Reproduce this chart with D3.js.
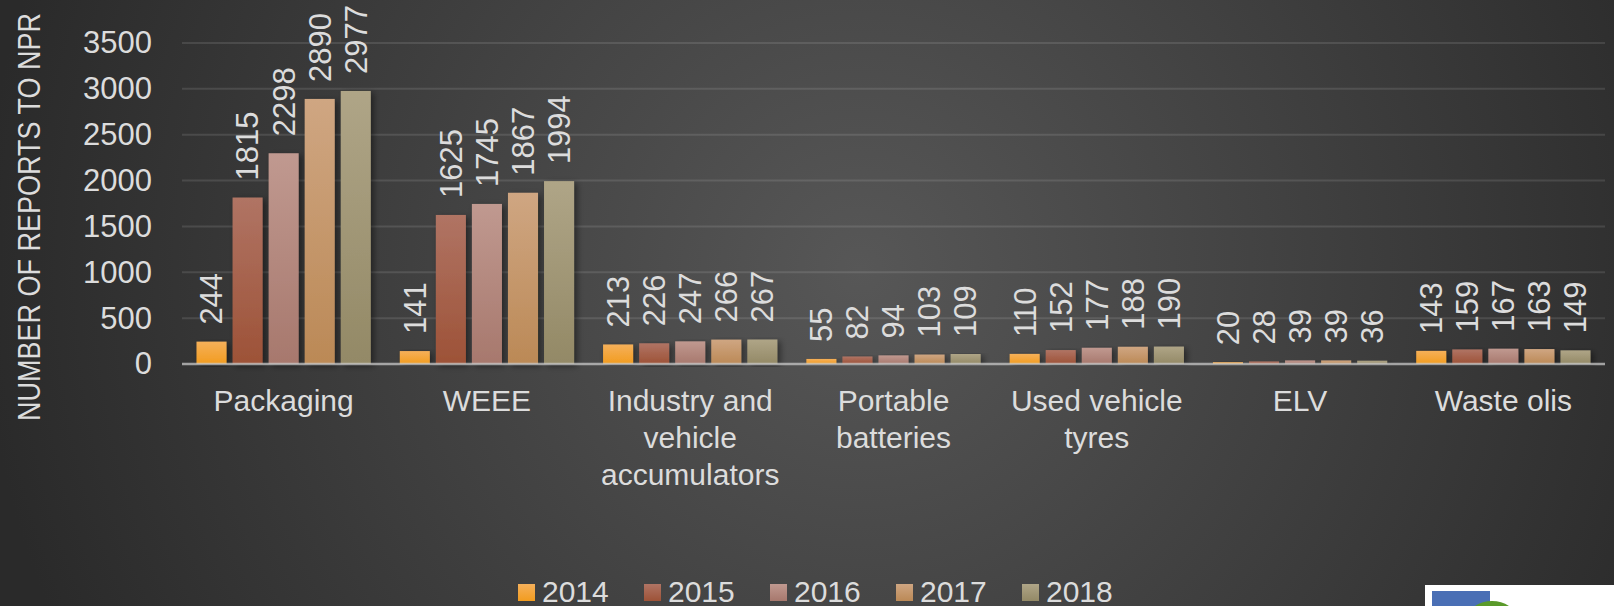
<!DOCTYPE html>
<html>
<head>
<meta charset="utf-8">
<script src="https://cdn.jsdelivr.net/npm/d3@7"></script>
<style>
  html, body { margin: 0; padding: 0; background: #333; overflow: hidden; }
  svg { display: block; }
</style>
</head>
<body>
<svg id="chart" width="1614" height="606"></svg>
<script>
const categories = ["Packaging", "WEEE", "Industry and vehicle accumulators", "Portable batteries", "Used vehicle tyres", "ELV", "Waste olis"];
const years = ["2014", "2015", "2016", "2017", "2018"];
const values2014 = [244, 141, 213, 55, 110, 20, 143];
const values2015 = [1815, 1625, 226, 82, 152, 28, 159];
const values2016 = [2298, 1745, 247, 94, 177, 39, 167];
const values2017 = [2890, 1867, 266, 103, 188, 39, 163];
const values2018 = [2977, 1994, 267, 109, 190, 36, 149];
const yTicks = [0, 500, 1000, 1500, 2000, 2500, 3000, 3500];

const series = [values2014, values2015, values2016, values2017, values2018];
// top / bottom colour of each year's bar gradient
const colors = [
  ["#f5b05a", "#f29c1f"],
  ["#b07464", "#9d5237"],
  ["#c09990", "#a7786d"],
  ["#cfa682", "#bb8956"],
  ["#afa587", "#938966"]
];

const svg = d3.select("#chart");
const W = 1614, H = 606;
const margin = { left: 182, right: 9, top: 43, bottom: 242 };
const textColor = "#dcdcdc";
const font = "'Liberation Sans', Arial, sans-serif";

const defs = svg.append("defs");

// background: dark radial gradient
const bg = defs.append("radialGradient")
  .attr("id", "bg")
  .attr("gradientUnits", "userSpaceOnUse")
  .attr("cx", 860).attr("cy", 270).attr("r", 880);
bg.append("stop").attr("offset", "0%").attr("stop-color", "#575757");
bg.append("stop").attr("offset", "100%").attr("stop-color", "#2a2a2a");

svg.append("rect").attr("width", W).attr("height", H).attr("fill", "url(#bg)");

colors.forEach((c, i) => {
  const g = defs.append("linearGradient")
    .attr("id", "bar" + i)
    .attr("x1", 0).attr("y1", 0).attr("x2", 0).attr("y2", 1);
  g.append("stop").attr("offset", "0%").attr("stop-color", c[0]);
  g.append("stop").attr("offset", "100%").attr("stop-color", c[1]);
});

const shadow = defs.append("filter").attr("id", "shadow")
  .attr("x", "-30%").attr("y", "-10%").attr("width", "160%").attr("height", "120%");
shadow.append("feDropShadow")
  .attr("dx", 3).attr("dy", 2).attr("stdDeviation", 3)
  .attr("flood-color", "#000").attr("flood-opacity", 0.45);

const x0 = d3.scaleBand()
  .domain(categories)
  .range([margin.left, W - margin.right])
  .paddingInner(0).paddingOuter(0);

const x1 = d3.scaleBand()
  .domain(years)
  .range([14.5, x0.bandwidth() - 14.5])
  .paddingInner(0.167).paddingOuter(0);

const y = d3.scaleLinear()
  .domain([0, 3500])
  .range([H - margin.bottom, margin.top]);

// gridlines
svg.append("g")
  .selectAll("line")
  .data(yTicks.slice(1))
  .join("line")
  .attr("x1", margin.left)
  .attr("x2", W - margin.right)
  .attr("y1", d => y(d))
  .attr("y2", d => y(d))
  .attr("stroke", "rgba(255,255,255,0.11)")
  .attr("stroke-width", 2);

// y axis labels
const yAxis = svg.append("g")
  .attr("transform", `translate(${margin.left},0)`)
  .call(d3.axisLeft(y).tickValues(yTicks).tickFormat(d3.format("d")).tickSize(0).tickPadding(30));
yAxis.select(".domain").remove();
yAxis.selectAll("text")
  .attr("fill", textColor)
  .style("font-family", font)
  .style("font-size", "31px");

// y axis title (condensed to the reference's length)
svg.append("text")
  .attr("transform", `translate(40,217) rotate(-90)`)
  .attr("text-anchor", "middle")
  .attr("fill", textColor)
  .attr("textLength", 408)
  .attr("lengthAdjust", "spacingAndGlyphs")
  .style("font-family", font)
  .style("font-size", "31px")
  .text("NUMBER OF REPORTS TO NPR");

// bars
const groups = svg.append("g")
  .selectAll("g")
  .data(categories)
  .join("g")
  .attr("transform", d => `translate(${x0(d)},0)`);

groups.selectAll("rect")
  .data((d, i) => series.map((s, j) => ({ year: years[j], value: s[i], k: j })))
  .join("rect")
  .attr("x", d => x1(d.year))
  .attr("y", d => y(d.value))
  .attr("width", x1.bandwidth())
  .attr("height", d => y(0) - y(d.value))
  .attr("fill", d => `url(#bar${d.k})`)
  .attr("filter", "url(#shadow)");

// data labels
groups.selectAll("text.val")
  .data((d, i) => series.map((s, j) => ({ year: years[j], value: s[i] })))
  .join("text")
  .attr("class", "val")
  .attr("transform", d => `translate(${x1(d.year) + x1.bandwidth() / 2},${y(d.value) - 17}) rotate(-90)`)
  .attr("dy", "0.35em")
  .attr("fill", textColor)
  .style("font-family", font)
  .style("font-size", "31px")
  .text(d => d.value);

// baseline
svg.append("line")
  .attr("x1", margin.left)
  .attr("x2", W - margin.right)
  .attr("y1", y(0))
  .attr("y2", y(0))
  .attr("stroke", "rgba(200,200,200,0.75)")
  .attr("stroke-width", 2.5);

// category labels, wrapped
const catLabels = svg.append("g")
  .selectAll("text")
  .data(categories)
  .join("text")
  .attr("x", d => x0(d) + x0.bandwidth() / 2)
  .attr("y", 411)
  .attr("text-anchor", "middle")
  .attr("fill", textColor)
  .style("font-family", font)
  .style("font-size", "30px");

catLabels.each(function (d) {
  const el = d3.select(this);
  const words = d.split(" ");
  const cx = x0(d) + x0.bandwidth() / 2;
  let line = [];
  let tspan = el.append("tspan").attr("x", cx).attr("dy", 0);
  words.forEach(w => {
    line.push(w);
    tspan.text(line.join(" "));
    if (tspan.node().getComputedTextLength() > 190 && line.length > 1) {
      line.pop();
      tspan.text(line.join(" "));
      line = [w];
      tspan = el.append("tspan").attr("x", cx).attr("dy", 37).text(w);
    }
  });
});

// legend
const legend = svg.append("g").attr("transform", "translate(518,584)");
const items = legend.selectAll("g")
  .data(years)
  .join("g")
  .attr("transform", (d, i) => `translate(${i * 126},0)`);
items.append("rect")
  .attr("width", 17).attr("height", 17)
  .attr("fill", (d, i) => `url(#bar${i})`);
items.append("text")
  .attr("x", 24)
  .attr("y", 18)
  .attr("fill", textColor)
  .style("font-family", font)
  .style("font-size", "30px")
  .text(d => d);

// logo corner
const logo = svg.append("g");
logo.append("rect").attr("x", 1425).attr("y", 585).attr("width", 189).attr("height", 21).attr("fill", "#fff");
logo.append("rect").attr("x", 1432).attr("y", 591).attr("width", 58).attr("height", 15).attr("fill", "#4a6fb5");
logo.append("circle").attr("cx", 1492).attr("cy", 630).attr("r", 28).attr("fill", "#fff");
logo.append("circle").attr("cx", 1492).attr("cy", 632).attr("r", 28).attr("fill", "none")
  .attr("stroke", "#5a9a2a").attr("stroke-width", 6);
</script>
</body>
</html>
